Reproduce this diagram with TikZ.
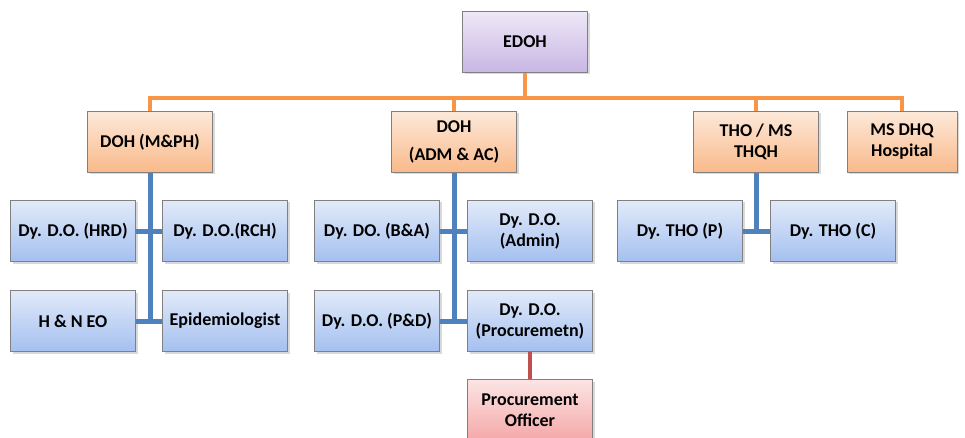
\documentclass[tikz,border=0pt]{standalone}
\usepackage{fontspec}
\setmainfont{Carlito}
\usepackage{tikz}
\usetikzlibrary{shadows}

\definecolor{purpletop}{HTML}{EEE8F7}
\definecolor{purplebot}{HTML}{C8B6E4}
\definecolor{orangetop}{HTML}{FDE9D9}
\definecolor{orangebot}{HTML}{F9B98A}
\definecolor{bluetop}{HTML}{E2EAF9}
\definecolor{bluebot}{HTML}{A4C0F0}
\definecolor{redtop}{HTML}{FCE4E4}
\definecolor{redbot}{HTML}{F5A8A8}
\definecolor{busorange}{HTML}{F79646}
\definecolor{subblue}{HTML}{4F81BD}
\definecolor{offred}{HTML}{C0504D}

\tikzset{
  unit/.style={draw=black!50, line width=0.9pt, minimum width=125pt, minimum height=61pt,
    align=center, font=\fontsize{18}{21}\selectfont\bfseries, inner sep=2pt,
    drop shadow={shadow xshift=2pt, shadow yshift=-2pt, opacity=0.3}},
  headbox/.style={unit, top color=purpletop, bottom color=purplebot},
  dohbox/.style={unit, top color=orangetop, bottom color=orangebot},
  dybox/.style={unit, top color=bluetop, bottom color=bluebot},
  offbox/.style={unit, top color=redtop, bottom color=redbot},
  busline/.style={draw=busorange, line width=4pt},
  subline/.style={draw=subblue, line width=5pt},
  offline/.style={draw=offred, line width=4pt},
}

\begin{document}
\begin{tikzpicture}[x=1pt,y=-1pt]
        \useasboundingbox (0,0) rectangle (965,438);
        \node[headbox] (edoh) at (525,42) {EDOH};
        \coordinate (bus) at (525,98);
        % second row
        \node[dohbox] (mph) at (150,142) {DOH (M\&PH)};
        \node[dohbox] (adm) at (454,142) {DOH\\[7pt](ADM \& AC)};
        \node[dohbox] (tho) at (756,142) {THO / MS\\THQH};
        \node[dohbox, minimum width=110pt] (dhq) at (902,142) {MS DHQ\\Hospital};
        % deputies under DOH (M&PH)
        \node[dybox] (hrd) at (73,231) {Dy. D.O. (HRD)};
        \node[dybox] (rch) at (225,231) {Dy. D.O.(RCH)};
        \node[dybox] (hne) at (73,321) {H \& N EO};
        \node[dybox] (epi) at (225,321) {Epidemiologist};
        % deputies under DOH (ADM & AC)
        \node[dybox] (ba) at (377,231) {Dy. DO. (B\&A)};
        \node[dybox] (admin) at (530,231) {Dy. D.O.\\(Admin)};
        \node[dybox] (pd) at (377,321) {Dy. D.O. (P\&D)};
        \node[dybox] (proc) at (530,321) {Dy. D.O.\\(Procuremetn)};
        \node[offbox] (po) at (530,410) {Procurement\\Officer};
        % deputies under THO
        \node[dybox] (thop) at (680,231) {Dy. THO (P)};
        \node[dybox] (thoc) at (833,231) {Dy. THO (C)};
        % connectors
        \draw[busline] (edoh) -- (bus);
        \draw[busline] (mph.north) |- (bus) -| (dhq.north);
        \draw[busline] (adm.north) -- (adm.north |- bus);
        \draw[busline] (tho.north) -- (tho.north |- bus);
        \draw[subline] (mph.south) -- (mph.south |- epi.west);
        \draw[subline] (hrd.east) -- (rch.west);
        \draw[subline] (hne.east) -- (epi.west);
        \draw[subline] (adm.south) -- (adm.south |- proc.west);
        \draw[subline] (ba.east) -- (admin.west);
        \draw[subline] (pd.east) -- (proc.west);
        \draw[subline] (tho.south) -- (tho.south |- thoc.west);
        \draw[subline] (thop.east) -- (thoc.west);
        \draw[offline] (proc.south -| po.north) -- (po.north);
    \end{tikzpicture}
\end{document}
